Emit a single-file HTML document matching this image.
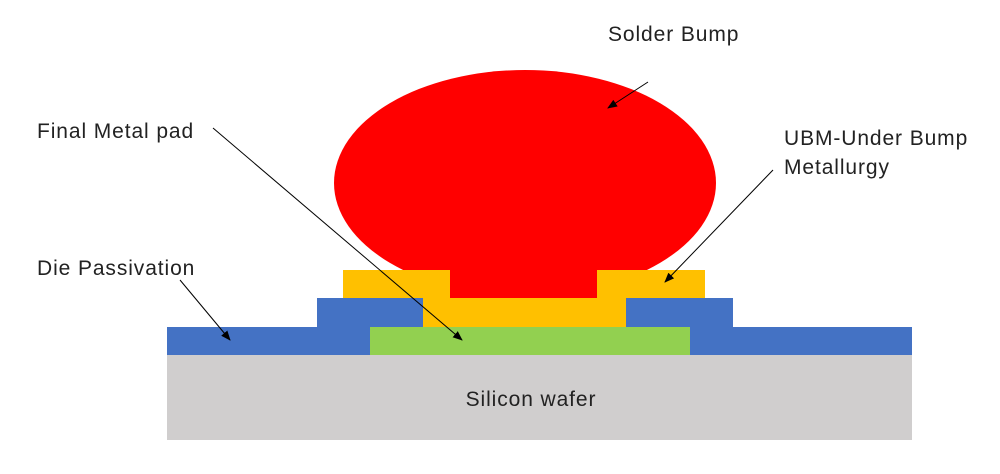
<!DOCTYPE html>
<html><head><style>body{margin:0;background:#fff}</style></head><body>
<svg width="1000" height="469" xmlns="http://www.w3.org/2000/svg" font-family="Liberation Sans, sans-serif" font-size="21" letter-spacing="0.9" fill="#222">
<defs><marker id="a" markerWidth="10" markerHeight="8" refX="9" refY="4" orient="auto" markerUnits="userSpaceOnUse"><path d="M0,0L10,4L0,8z" fill="#000"/></marker></defs>
<rect x="167" y="355" width="745" height="85" fill="#d0cece"/>
<rect x="167" y="327" width="745" height="28" fill="#4472c4"/>
<rect x="317" y="298" width="106" height="29" fill="#4472c4"/>
<rect x="626" y="298" width="107" height="29" fill="#4472c4"/>
<ellipse cx="525" cy="183" rx="191" ry="113" fill="#ff0000"/>
<rect x="343" y="270" width="107" height="28" fill="#ffc000"/>
<rect x="597" y="270" width="108" height="28" fill="#ffc000"/>
<rect x="423" y="298" width="203" height="29" fill="#ffc000"/>
<rect x="450" y="260" width="147" height="38" fill="#ff0000"/>
<rect x="370" y="327" width="320" height="28" fill="#92d050"/>
<g stroke="#000" stroke-width="1" marker-end="url(#a)">
<line x1="648" y1="82" x2="608" y2="108"/>
<line x1="213" y1="128" x2="462" y2="340"/>
<line x1="773" y1="170" x2="665" y2="282"/>
<line x1="180" y1="280" x2="230" y2="340"/>
</g>
<text x="608" y="41">Solder Bump</text>
<text x="37" y="138">Final Metal pad</text>
<text x="784" y="145">UBM-Under Bump</text>
<text x="784" y="174">Metallurgy</text>
<text x="37" y="275">Die Passivation</text>
<text x="531" y="406" text-anchor="middle">Silicon wafer</text>
</svg>
</body></html>
